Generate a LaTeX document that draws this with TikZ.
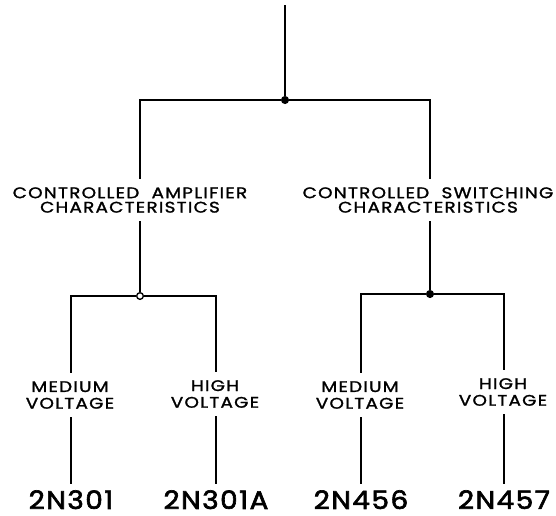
\documentclass[tikz,border=0pt]{standalone}
\usepackage{fontspec}
\setmainfont{Poppins}
\newfontfamily\letterfont[LetterSpace=8, FakeStretch=1.2, FakeBold=1.5]{Poppins}
\newfontfamily\partfont[LetterSpace=6, FakeStretch=1.1, FakeBold=2.5]{Poppins}
\usetikzlibrary{backgrounds}
\begin{document}
\begin{tikzpicture}[x=0.75pt, y=-0.75pt,
    wire/.style={line width=1.4pt, black},
    lbl/.style={fill=white, inner xsep=2pt, inner ysep=6pt, align=center, font=\letterfont\fontsize{11.5}{#1}\selectfont},
    part/.style={anchor=north, inner sep=0pt, font=\partfont\fontsize{19}{19}\selectfont},
    joint/.style={circle, draw, line width=1pt, fill=#1, inner sep=0pt, minimum size=5pt},
]
    \useasboundingbox (0,0) rectangle (556,515);
    \coordinate (feed) at (285,5);
    \node[joint=black] (root) at (285,100) {};
    \node[lbl=10.8pt] (amp) at (130,200) {CONTROLLED\ \ AMPLIFIER\\CHARACTERISTICS};
    \node[lbl=10.8pt] (sw) at (428,200) {CONTROLLED\ \ SWITCHING\\CHARACTERISTICS};
    \node[joint=white] (ampj) at (140,296) {};
    \node[joint=black] (swj) at (430,294) {};

    \node[lbl=12.5pt] (amed) at (70,395) {MEDIUM\\VOLTAGE};
    \node[lbl=12.5pt] (ahigh) at (215,394) {HIGH\\VOLTAGE};
    \node[lbl=12.5pt] (smed) at (360,395) {MEDIUM\\VOLTAGE};
    \node[lbl=12.5pt] (shigh) at (503,392) {HIGH\\VOLTAGE};

    \node[part] (p301) at (71,490) {2N301};
    \node[part] (p301a) at (216,490) {2N301A};
    \node[part] (p456) at (361,490) {2N456};
    \node[part] (p457) at (504,490) {2N457};

    \begin{scope}[on background layer]
        \draw[wire] (feed) -- (root);
        \draw[wire] (root) -| (ampj);
        \draw[wire] (root) -| (swj);
        \draw[wire, shorten >=4.5pt] (ampj) -| (p301.north);
        \draw[wire, shorten >=4.5pt] (ampj) -| (p301a.north);
        \draw[wire, shorten >=4.5pt] (swj) -| (p456.north);
        \draw[wire, shorten >=4.5pt] (swj) -| (p457.north);
    \end{scope}
\end{tikzpicture}
\end{document}
